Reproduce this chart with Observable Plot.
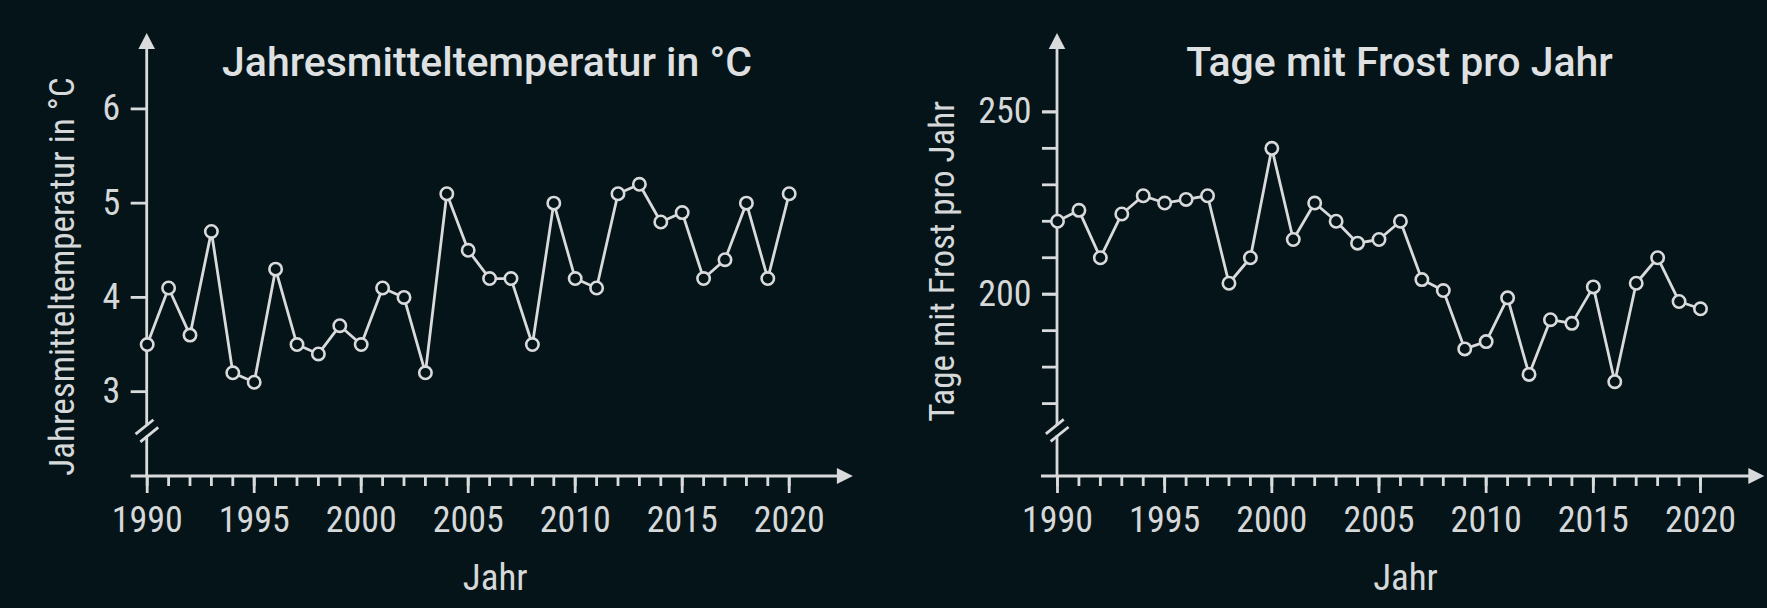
<!DOCTYPE html>
<html>
<head>
<meta charset="utf-8">
<script src="https://cdn.jsdelivr.net/npm/d3@7"></script>
<script src="https://cdn.jsdelivr.net/npm/@observablehq/plot@0.6"></script>
<style>
  html, body { margin: 0; padding: 0; background: #041418; }
  #wrap { display: flex; width: 1767px; height: 608px; overflow: hidden; }
  #wrap svg { display: block; }
</style>
</head>
<body>
<div id="wrap"></div>
<script>
// ---------- data ----------
const years = [1990,1991,1992,1993,1994,1995,1996,1997,1998,1999,2000,2001,2002,2003,2004,2005,2006,2007,2008,2009,2010,2011,2012,2013,2014,2015,2016,2017,2018,2019,2020];
const temperature = [3.5,4.1,3.6,4.7,3.2,3.1,4.3,3.5,3.4,3.7,3.5,4.1,4.0,3.2,5.1,4.5,4.2,4.2,3.5,5.0,4.2,4.1,5.1,5.2,4.8,4.9,4.2,4.4,5.0,4.2,5.1];
const frostDays = [220,223,210,222,227,225,226,227,203,210,240,215,225,220,214,215,220,204,201,185,187,199,178,193,192,202,176,203,210,198,196];

const majorYears = [1990,1995,2000,2005,2010,2015,2020];
const tempTicks = [3,4,5,6];
const frostLabelTicks = [200,250];
const frostMinorTicks = [170,180,190,200,210,220,230,240,250];

const titles = ["Jahresmitteltemperatur in °C", "Tage mit Frost pro Jahr"];
const yLabels = ["Jahresmitteltemperatur in °C", "Tage mit Frost pro Jahr"];
const xLabel = "Jahr";

// ---------- style ----------
const BG = "#041418";
const FG = "#d9dadb";
const TXT = "#d6d8d9";
const AXIS_FONT = "'Liberation Sans Narrow', 'Roboto Condensed', 'Arial Narrow', sans-serif";
const TITLE_FONT = "Roboto, 'Noto Sans', sans-serif";
const SW = 2.8;

// decoration: axis lines with filled arrowheads and the "//" break
function axisFrame(breakValue, arrowYear) {
  return (index, scales, values, dims) => {
    const {x, y} = scales;
    const x0 = dims.marginLeft;
    const yb = dims.height - dims.marginBottom;
    const yt = dims.marginTop;
    const xe = x(arrowYear);
    const ybr = y(breakValue);
    const g = d3.create("svg:g");
    const line = g.append("g").attr("stroke", FG).attr("stroke-width", SW).attr("fill", "none");
    // x axis
    line.append("line").attr("x1", x0 - 16).attr("x2", xe - 14).attr("y1", yb).attr("y2", yb);
    // y axis with gap
    line.append("line").attr("x1", x0).attr("x2", x0).attr("y1", yb).attr("y2", ybr + 5);
    line.append("line").attr("x1", x0).attr("x2", x0).attr("y1", ybr - 5).attr("y2", yt + 14);
    // break slashes
    const ang = 39 * Math.PI / 180, hl = 11.5;
    const cx = Math.cos(ang) * hl, cy = Math.sin(ang) * hl;
    for (const [ox, oy] of [[-2.2, -3.8], [2.6, 3.8]]) {
      line.append("line")
        .attr("x1", x0 + ox - cx).attr("y1", ybr + oy + cy)
        .attr("x2", x0 + ox + cx).attr("y2", ybr + oy - cy);
    }
    // arrowheads
    g.append("path").attr("fill", FG)
      .attr("d", `M${xe},${yb}L${xe - 16},${yb - 8}L${xe - 16},${yb + 8}Z`);
    g.append("path").attr("fill", FG)
      .attr("d", `M${x0},${yt}L${x0 - 8.3},${yt + 16}L${x0 + 8.3},${yt + 16}Z`);
    return g.node();
  };
}

function makeChart(cfg) {
  const data = years.map((yr, i) => ({year: yr, value: cfg.values[i]}));
  return Plot.plot({
    width: cfg.width,
    height: 608,
    marginLeft: cfg.marginLeft,
    marginRight: cfg.marginRight,
    marginTop: 33,
    marginBottom: 132,
    style: {background: BG, color: TXT, fontFamily: AXIS_FONT, fontSize: "36px", overflow: "visible"},
    x: {domain: [1990, 2020], axis: null},
    y: {domain: cfg.yDomain, axis: null},
    marks: [
      axisFrame(cfg.breakValue, 2023),
      // x axis ticks
      Plot.axisX(years, {anchor: "bottom", tickSize: 10, fill: "none", stroke: FG, strokeWidth: SW, label: null}),
      Plot.axisX(majorYears, {anchor: "bottom", tickSize: 17, tickPadding: 12.5, tickFormat: "d", stroke: FG, strokeWidth: SW, fill: TXT, fontSize: 36, label: null}),
      // y axis ticks
      ...(cfg.minorTicks ? [Plot.axisY(cfg.minorTicks, {anchor: "left", tickSize: 15, fill: "none", stroke: FG, strokeWidth: SW, label: null})] : []),
      Plot.axisY(cfg.labelTicks, {anchor: "left", tickSize: cfg.minorTicks ? 15 : 16, tickPadding: 11, tickFormat: "d", stroke: FG, strokeWidth: SW, fill: TXT, fontSize: 36, label: null}),
      // data
      Plot.line(data, {x: "year", y: "value", stroke: FG, strokeWidth: SW}),
      Plot.dot(data, {x: "year", y: "value", r: 6.2, stroke: FG, strokeWidth: 2.6, fill: BG}),
      // texts
      Plot.text([cfg.title], {frameAnchor: "top", lineAnchor: "bottom", dx: cfg.titleDx, dy: 42, fontFamily: TITLE_FONT, fontWeight: 500, fontSize: 41, fill: "#dfe0e1"}),
      Plot.text([cfg.yLabel], {frameAnchor: "left", rotate: -90, textAnchor: "middle", lineAnchor: "middle", dx: cfg.yLabelDx, dy: cfg.yLabelDy, fontSize: 35, fill: TXT}),
      Plot.text([xLabel], {frameAnchor: "bottom", lineAnchor: "bottom", dx: cfg.xLabelDx, dy: 113, fontSize: 37, fill: TXT})
    ]
  });
}

const wrap = document.getElementById("wrap");
wrap.appendChild(makeChart({
  width: 880, marginLeft: 146.7, marginRight: 91.3,
  values: temperature, yDomain: [2.1, 6.8], breakValue: 2.58,
  labelTicks: tempTicks, minorTicks: null,
  title: titles[0], titleDx: 18.8, yLabel: yLabels[0], yLabelDx: -84.7, yLabelDy: 21.5, xLabelDx: 27
}));
wrap.appendChild(makeChart({
  width: 887, marginLeft: 177, marginRight: 67,
  values: frostDays, yDomain: [150, 271.5], breakValue: 162.5,
  labelTicks: frostLabelTicks, minorTicks: frostMinorTicks,
  title: titles[1], titleDx: 20.5, yLabel: yLabels[1], yLabelDx: -115, yLabelDy: 6.5, xLabelDx: 26.5
}));
</script>
</body>
</html>
